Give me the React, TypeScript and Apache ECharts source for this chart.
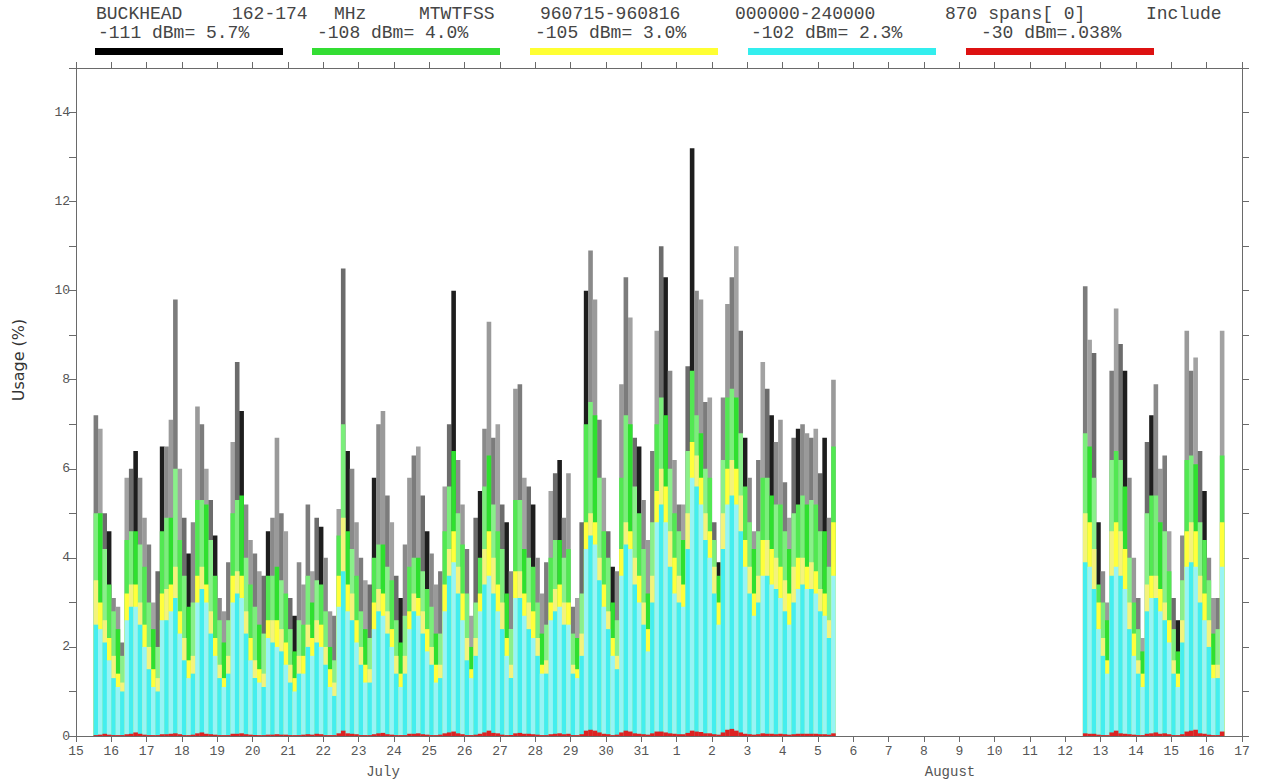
import React, { useEffect, useRef } from "react";
import * as echarts from "echarts";

// time axis: day numbers counted from July (Aug 1 = 32)
const seg1Start = 15.5; // July 15, 12:00
const seg2Start = 43.5; // Aug 12, 12:00
const binsPerDay = 8;

// -111 dBm (grey/black) usage per 3-hour bin
const greySeg1 = [
  7.2, 6.9, 5.0, 4.6, 3.1, 2.9, 2.1, 5.8,
  6.0, 6.4, 5.8, 4.9, 4.3, 3.0, 3.7, 6.5,
  6.5, 7.1, 9.8, 6.0, 4.9, 4.1, 4.8, 7.4,
  7.0, 6.0, 5.3, 4.5, 3.1, 2.8, 3.9, 6.6,
  8.4, 7.3, 5.2, 4.4, 4.1, 3.7, 3.6, 4.6,
  4.9, 6.7, 5.0, 4.6, 3.1, 2.7, 3.9, 3.4,
  5.2, 3.7, 4.9, 4.7, 4.0, 2.8, 2.7, 5.1,
  10.5, 6.4, 6.0, 4.8, 4.0, 3.5, 3.4, 5.8,
  7.0, 7.3, 5.4, 4.8, 3.6, 3.1, 4.3, 5.8,
  6.3, 6.5, 5.4, 4.6, 4.1, 3.4, 3.7, 5.6,
  7.0, 10.0, 6.2, 5.2, 4.2, 2.7, 4.9, 5.5,
  6.9, 9.3, 6.7, 7.0, 5.2, 4.8, 3.7, 7.8,
  7.9, 5.8, 5.6, 5.2, 4.0, 3.2, 3.9, 5.5,
  5.9, 6.2, 4.9, 5.9, 2.9, 3.1, 4.8, 10.0,
  10.9, 9.8, 7.1, 5.8, 4.6, 3.8, 3.7, 7.9,
  10.3, 9.4, 6.7, 6.5, 5.3, 4.4, 6.4, 9.1,
  11.0, 10.3, 8.2, 6.2, 5.2, 5.2, 8.3, 13.2,
  10.0, 9.8, 7.5, 7.6, 4.8, 3.9, 7.6, 9.7,
  10.3, 11.0, 9.1, 6.7, 5.8, 4.6, 6.2, 8.4,
  7.8, 7.2, 6.6, 7.1, 5.7, 4.9, 6.7, 6.9,
  7.0, 6.8, 6.7, 6.9, 5.9, 6.7, 4.9, 8.0,
];
const greySeg2 = [
  10.1, 8.9, 8.6, 4.8, 3.7, 3.0, 8.2, 9.6,
  8.8, 8.2, 5.8, 4.0, 3.1, 2.2, 6.6, 7.2,
  7.9, 6.0, 6.3, 4.6, 3.1, 2.6, 4.5, 9.1,
  8.2, 8.5, 6.4, 5.5, 4.0, 3.1, 3.1, 9.1,
];

// -108 dBm (green)
const greenSeg1 = [
  5.0, 5.0, 4.2, 3.4, 2.8, 2.4, 1.8, 4.4,
  4.6, 4.6, 4.3, 3.8, 3.0, 2.4, 2.0, 4.6,
  4.9, 4.9, 6.0, 4.4, 3.6, 2.9, 3.0, 5.3,
  5.3, 5.2, 4.4, 3.6, 2.6, 2.1, 2.6, 5.0,
  5.3, 5.4, 4.0, 3.4, 2.9, 2.5, 2.3, 3.6,
  3.6, 3.8, 3.5, 3.2, 2.4, 1.9, 2.6, 2.5,
  3.6, 3.0, 3.5, 3.4, 2.8, 2.0, 1.7, 4.5,
  7.0, 4.6, 4.2, 3.6, 2.8, 2.4, 2.2, 4.0,
  4.3, 4.3, 3.8, 3.5, 2.6, 2.1, 2.7, 3.8,
  4.0, 4.0, 3.7, 3.3, 2.9, 2.3, 2.3, 4.6,
  5.6, 6.4, 5.0, 4.3, 3.2, 2.0, 3.0, 4.0,
  5.6, 6.3, 5.2, 4.6, 4.2, 3.2, 2.4, 5.3,
  5.3, 4.2, 4.0, 3.8, 3.0, 2.3, 2.5, 4.0,
  4.4, 4.4, 4.0, 4.2, 2.3, 2.2, 3.2, 7.0,
  7.5, 7.2, 5.8, 4.6, 4.0, 3.0, 2.6, 5.8,
  7.2, 7.0, 5.6, 5.0, 4.2, 3.2, 4.8, 7.0,
  7.6, 7.2, 6.0, 5.0, 4.6, 4.4, 6.4, 8.2,
  7.2, 6.8, 6.0, 5.8, 4.4, 3.6, 6.2, 7.6,
  7.8, 7.6, 6.8, 5.6, 4.8, 4.2, 4.6, 5.8,
  5.8, 5.4, 5.2, 5.2, 4.6, 4.2, 5.0, 5.2,
  5.4, 5.2, 5.3, 5.2, 4.6, 4.6, 3.8, 6.5,
];
const greenSeg2 = [
  6.8, 6.5, 5.8, 3.4, 3.0, 2.6, 6.2, 6.4,
  6.2, 5.6, 4.0, 3.0, 2.4, 1.9, 5.0, 5.4,
  5.4, 4.8, 4.6, 3.7, 2.4, 1.9, 3.5, 6.2,
  6.3, 6.1, 4.8, 4.4, 3.5, 2.3, 2.4, 6.3,
];

// -105 dBm (yellow)
const yellowSeg1 = [
  3.5, 3.0, 2.6, 2.2, 1.8, 1.4, 1.2, 3.2,
  3.4, 3.4, 3.0, 2.5, 2.0, 1.5, 1.3, 3.2,
  3.3, 3.4, 3.8, 2.8, 2.2, 1.7, 1.8, 3.6,
  3.8, 3.4, 2.8, 2.2, 1.6, 1.3, 1.8, 3.6,
  3.7, 3.6, 2.8, 2.2, 1.7, 1.5, 1.4, 2.6,
  2.6, 2.6, 2.4, 2.1, 1.6, 1.3, 1.8, 1.8,
  2.5, 2.2, 2.6, 2.5, 2.0, 1.5, 1.2, 3.6,
  4.9, 3.4, 3.2, 2.6, 2.0, 1.6, 1.5, 3.0,
  3.3, 3.2, 2.8, 2.4, 1.8, 1.4, 1.8, 2.8,
  3.2, 3.1, 2.8, 2.4, 2.0, 1.6, 1.6, 3.4,
  4.2, 4.6, 3.8, 3.2, 2.2, 1.5, 2.2, 3.2,
  4.2, 4.6, 4.0, 3.4, 3.0, 2.2, 1.6, 3.7,
  3.7, 3.2, 3.0, 2.8, 2.2, 1.6, 1.7, 3.0,
  3.3, 3.4, 3.0, 3.0, 1.6, 1.5, 2.3, 4.8,
  5.0, 4.8, 4.0, 3.4, 2.8, 2.2, 1.8, 4.2,
  4.8, 4.6, 4.0, 3.6, 3.0, 2.4, 3.6, 5.5,
  6.0, 5.6, 4.6, 4.0, 3.6, 3.4, 5.0, 6.6,
  6.3, 5.8, 5.0, 4.6, 3.8, 3.0, 5.0, 6.0,
  6.2, 6.0, 5.4, 4.4, 3.8, 3.2, 3.6, 4.4,
  4.4, 4.2, 4.0, 3.8, 3.5, 3.2, 3.8, 4.0,
  4.0, 3.8, 3.9, 3.7, 3.3, 3.2, 2.6, 4.8,
];
const yellowSeg2 = [
  5.0, 4.8, 4.2, 3.0, 2.2, 1.7, 4.6, 4.8,
  4.6, 4.2, 3.0, 2.3, 1.7, 1.4, 3.4, 3.6,
  3.6, 3.3, 3.0, 2.6, 1.7, 1.4, 2.6, 4.6,
  4.8, 4.6, 3.6, 3.2, 2.6, 1.6, 1.6, 4.8,
];

// -102 dBm (cyan)
const cyanSeg1 = [
  2.5, 2.4, 2.1, 1.7, 1.3, 1.1, 1.0, 2.6,
  2.9, 2.9, 2.5, 2.0, 1.5, 1.1, 1.0, 2.6,
  2.6, 2.8, 3.1, 2.3, 1.7, 1.3, 1.4, 3.0,
  3.3, 3.0, 2.3, 1.8, 1.3, 1.1, 1.4, 3.0,
  3.2, 3.1, 2.3, 1.7, 1.3, 1.2, 1.1, 2.2,
  2.1, 2.0, 1.9, 1.6, 1.2, 1.0, 1.4, 1.4,
  2.0, 1.8, 2.1, 2.0, 1.6, 1.1, 0.9, 2.9,
  3.7, 2.8, 2.6, 2.1, 1.6, 1.2, 1.2, 2.4,
  2.8, 2.7, 2.3, 2.0, 1.4, 1.1, 1.4, 2.4,
  2.8, 2.7, 2.3, 1.9, 1.6, 1.2, 1.3, 2.8,
  3.6, 3.9, 3.2, 2.6, 1.7, 1.3, 1.8, 2.8,
  3.4, 3.6, 3.2, 2.8, 2.4, 1.8, 1.3, 3.1,
  3.1, 2.7, 2.4, 2.2, 1.8, 1.4, 1.4, 2.6,
  2.8, 2.9, 2.5, 2.5, 1.4, 1.3, 1.8, 4.2,
  4.5, 4.3, 3.5, 2.9, 2.4, 1.8, 1.5, 3.6,
  4.3, 4.2, 3.4, 3.0, 2.5, 1.9, 3.0, 4.8,
  5.2, 4.8, 3.8, 3.2, 3.0, 2.9, 4.2, 5.8,
  5.6, 5.2, 4.4, 4.0, 3.2, 2.5, 4.2, 5.2,
  5.4, 5.2, 4.6, 3.8, 3.2, 2.7, 3.0, 3.6,
  3.6, 3.4, 3.3, 3.1, 2.8, 2.5, 3.0, 3.3,
  3.4, 3.3, 3.3, 3.2, 2.8, 2.7, 2.2, 3.6,
];
const cyanSeg2 = [
  3.9, 3.8, 3.3, 2.4, 1.8, 1.4, 3.6, 3.8,
  3.6, 3.3, 2.4, 1.8, 1.4, 1.1, 2.8, 3.1,
  3.1, 2.8, 2.6, 2.1, 1.4, 1.1, 2.1, 3.8,
  3.9, 3.8, 3.0, 2.6, 2.0, 1.3, 1.3, 3.8,
];

// -30 dBm (red)
const redSeg1 = [
  0.02, 0.03, 0.05, 0.03, 0.02, 0.02, 0.02, 0.04,
  0.05, 0.08, 0.05, 0.03, 0.02, 0.02, 0.02, 0.04,
  0.04, 0.05, 0.06, 0.04, 0.02, 0.02, 0.03, 0.06,
  0.08, 0.05, 0.04, 0.03, 0.02, 0.02, 0.02, 0.05,
  0.05, 0.06, 0.04, 0.03, 0.02, 0.02, 0.02, 0.03,
  0.03, 0.04, 0.03, 0.03, 0.02, 0.02, 0.02, 0.03,
  0.04, 0.03, 0.05, 0.04, 0.02, 0.02, 0.02, 0.06,
  0.12, 0.06, 0.05, 0.04, 0.02, 0.02, 0.02, 0.04,
  0.06, 0.07, 0.04, 0.03, 0.02, 0.02, 0.02, 0.05,
  0.05, 0.06, 0.04, 0.03, 0.02, 0.02, 0.03, 0.06,
  0.08, 0.10, 0.06, 0.04, 0.02, 0.02, 0.03, 0.05,
  0.08, 0.12, 0.07, 0.06, 0.03, 0.02, 0.02, 0.06,
  0.07, 0.05, 0.05, 0.04, 0.03, 0.02, 0.02, 0.04,
  0.05, 0.06, 0.04, 0.05, 0.02, 0.02, 0.04, 0.12,
  0.14, 0.12, 0.08, 0.05, 0.04, 0.02, 0.03, 0.08,
  0.12, 0.10, 0.06, 0.05, 0.04, 0.03, 0.06, 0.10,
  0.10, 0.08, 0.06, 0.05, 0.04, 0.04, 0.07, 0.12,
  0.10, 0.09, 0.06, 0.06, 0.04, 0.03, 0.08, 0.14,
  0.16, 0.12, 0.08, 0.05, 0.04, 0.03, 0.04, 0.06,
  0.05, 0.05, 0.04, 0.05, 0.04, 0.03, 0.04, 0.05,
  0.05, 0.05, 0.05, 0.05, 0.04, 0.04, 0.03, 0.06,
];
const redSeg2 = [
  0.06, 0.05, 0.05, 0.03, 0.02, 0.02, 0.08, 0.12,
  0.06, 0.05, 0.04, 0.03, 0.02, 0.02, 0.05, 0.06,
  0.08, 0.05, 0.06, 0.04, 0.02, 0.02, 0.04, 0.10,
  0.12, 0.14, 0.06, 0.05, 0.03, 0.02, 0.02, 0.10,
];

// axis ticks / labels
const dayTicksMin = 15;
const dayTicksMax = 48;
const yMin = 0;
const yMax = 15;
const yInterval = 2;

const titleLine1 = [
  { text: "BUCKHEAD", x: 96 },
  { text: "162-174", x: 232 },
  { text: "MHz", x: 334 },
  { text: "MTWTFSS", x: 419 },
  { text: "960715-960816", x: 540 },
  { text: "000000-240000", x: 735 },
  { text: "870 spans[ 0]", x: 945 },
  { text: "Include", x: 1146 },
];
const legendLabels = [
  "-111 dBm= 5.7%",
  "-108 dBm= 4.0%",
  "-105 dBm= 3.0%",
  "-102 dBm= 2.3%",
  "-30 dBm=.038%",
];
const legendColors = ["#000000", "#33dd33", "#ffff33", "#33eeee", "#dd1111"];
const legendTextX = [98, 317, 535, 751, 981];
const legendBarX = [95, 312, 530, 748, 966];

const greyShades = ["#7c7c7c", "#a2a2a2", "#6c6c6c", "#1e1e1e", "#8a8a8a", "#9a9a9a"];
const greenShades = ["#7bee7b", "#2fe02f", "#8af08a", "#52e852"];
const yellowShades = ["#f3f37c", "#ffff3c"];
const cyanShades = ["#44eeee", "#98f4f4"];

function buildX(): number[] {
  const xs: number[] = [];
  for (let i = 0; i < greySeg1.length; i++) xs.push(seg1Start + (i + 0.5) / binsPerDay);
  for (let i = 0; i < greySeg2.length; i++) xs.push(seg2Start + (i + 0.5) / binsPerDay);
  return xs;
}

export default function App() {
  const ref = useRef<HTMLDivElement>(null);
  useEffect(() => {
    if (!ref.current) return;
    const chart = echarts.init(ref.current, undefined, { renderer: "svg" });
    const xs = buildX();
    const grey = [...greySeg1, ...greySeg2];
    const green = [...greenSeg1, ...greenSeg2];
    const yellow = [...yellowSeg1, ...yellowSeg2];
    const cyan = [...cyanSeg1, ...cyanSeg2];
    const red = [...redSeg1, ...redSeg2];
    const pairs = (arr: number[]) => arr.map((v, i) => [xs[i], v]);
    const mkBar = (name: string, arr: number[], shades: string[]) => ({
      name,
      type: "bar",
      data: pairs(arr),
      barWidth: 4.6,
      barGap: "-100%",
      itemStyle: { color: (p: any) => shades[p.dataIndex % shades.length] },
      silent: true,
    });
    const axisColor = "#6a6a6a";
    const tickFont = { fontFamily: "Liberation Mono", fontSize: 13, color: "#555" };
    const titleStyle = { fontFamily: "Liberation Mono", fontSize: 18, fill: "#454545", textVerticalAlign: "middle" };
    const graphics: any[] = [];
    titleLine1.forEach((t) =>
      graphics.push({ type: "text", x: t.x, y: 14, style: { ...titleStyle, text: t.text } })
    );
    legendLabels.forEach((t, i) =>
      graphics.push({ type: "text", x: legendTextX[i], y: 33, style: { ...titleStyle, text: t } })
    );
    legendColors.forEach((c, i) =>
      graphics.push({ type: "rect", shape: { x: legendBarX[i], y: 48, width: 188, height: 7 }, style: { fill: c } })
    );
    graphics.push({
      type: "text",
      x: 383,
      y: 772,
      style: { text: "July", fontFamily: "Liberation Mono", fontSize: 14, fill: "#555", textAlign: "center", textVerticalAlign: "middle" },
    });
    graphics.push({
      type: "text",
      x: 950,
      y: 772,
      style: { text: "August", fontFamily: "Liberation Mono", fontSize: 14, fill: "#555", textAlign: "center", textVerticalAlign: "middle" },
    });
    graphics.push({
      type: "text",
      x: 18,
      y: 360,
      rotation: Math.PI / 2,
      style: { text: "Usage (%)", fontFamily: "DejaVu Sans", fontSize: 16, fill: "#333", textAlign: "center", textVerticalAlign: "middle" },
    });

    const xCommon = {
      type: "value",
      min: dayTicksMin,
      max: dayTicksMax,
      interval: 1,
      axisLine: { show: true, onZero: false, lineStyle: { color: axisColor, width: 1 } },
      axisTick: { show: true, length: 6, lineStyle: { color: axisColor } },
      splitLine: { show: false },
    };
    const yCommon = {
      type: "value",
      min: yMin,
      max: yMax,
      interval: yInterval,
      axisLine: { show: true, lineStyle: { color: axisColor, width: 1 } },
      axisTick: { show: true, length: 7, lineStyle: { color: axisColor } },
      minorTick: { show: true, splitNumber: 2, length: 7, lineStyle: { color: axisColor } },
      splitLine: { show: false },
    };
    chart.setOption({
      animation: false,
      grid: { left: 76, right: 20, top: 68, bottom: 48 },
      xAxis: [
        {
          ...xCommon,
          position: "bottom",
          axisLabel: {
            ...tickFont,
            margin: 9,
            formatter: (v: number) => String(v > 31 ? v - 31 : v),
          },
        },
        { ...xCommon, position: "top", axisLabel: { show: false } },
      ],
      yAxis: [
        { ...yCommon, position: "left", axisLabel: { ...tickFont, margin: 6, showMaxLabel: false } },
        { ...yCommon, position: "right", axisLabel: { show: false } },
      ],
      graphic: graphics,
      series: [
        mkBar("-111 dBm", grey, greyShades),
        mkBar("-108 dBm", green, greenShades),
        mkBar("-105 dBm", yellow, yellowShades),
        mkBar("-102 dBm", cyan, cyanShades),
        mkBar("-30 dBm", red, ["#dd2222"]),
      ],
    });
    return () => chart.dispose();
  }, []);
  return (
    <div
      ref={ref}
      style={{ position: "fixed", left: 0, top: 0, width: 1262, height: 784, background: "#fff" }}
    />
  );
}
